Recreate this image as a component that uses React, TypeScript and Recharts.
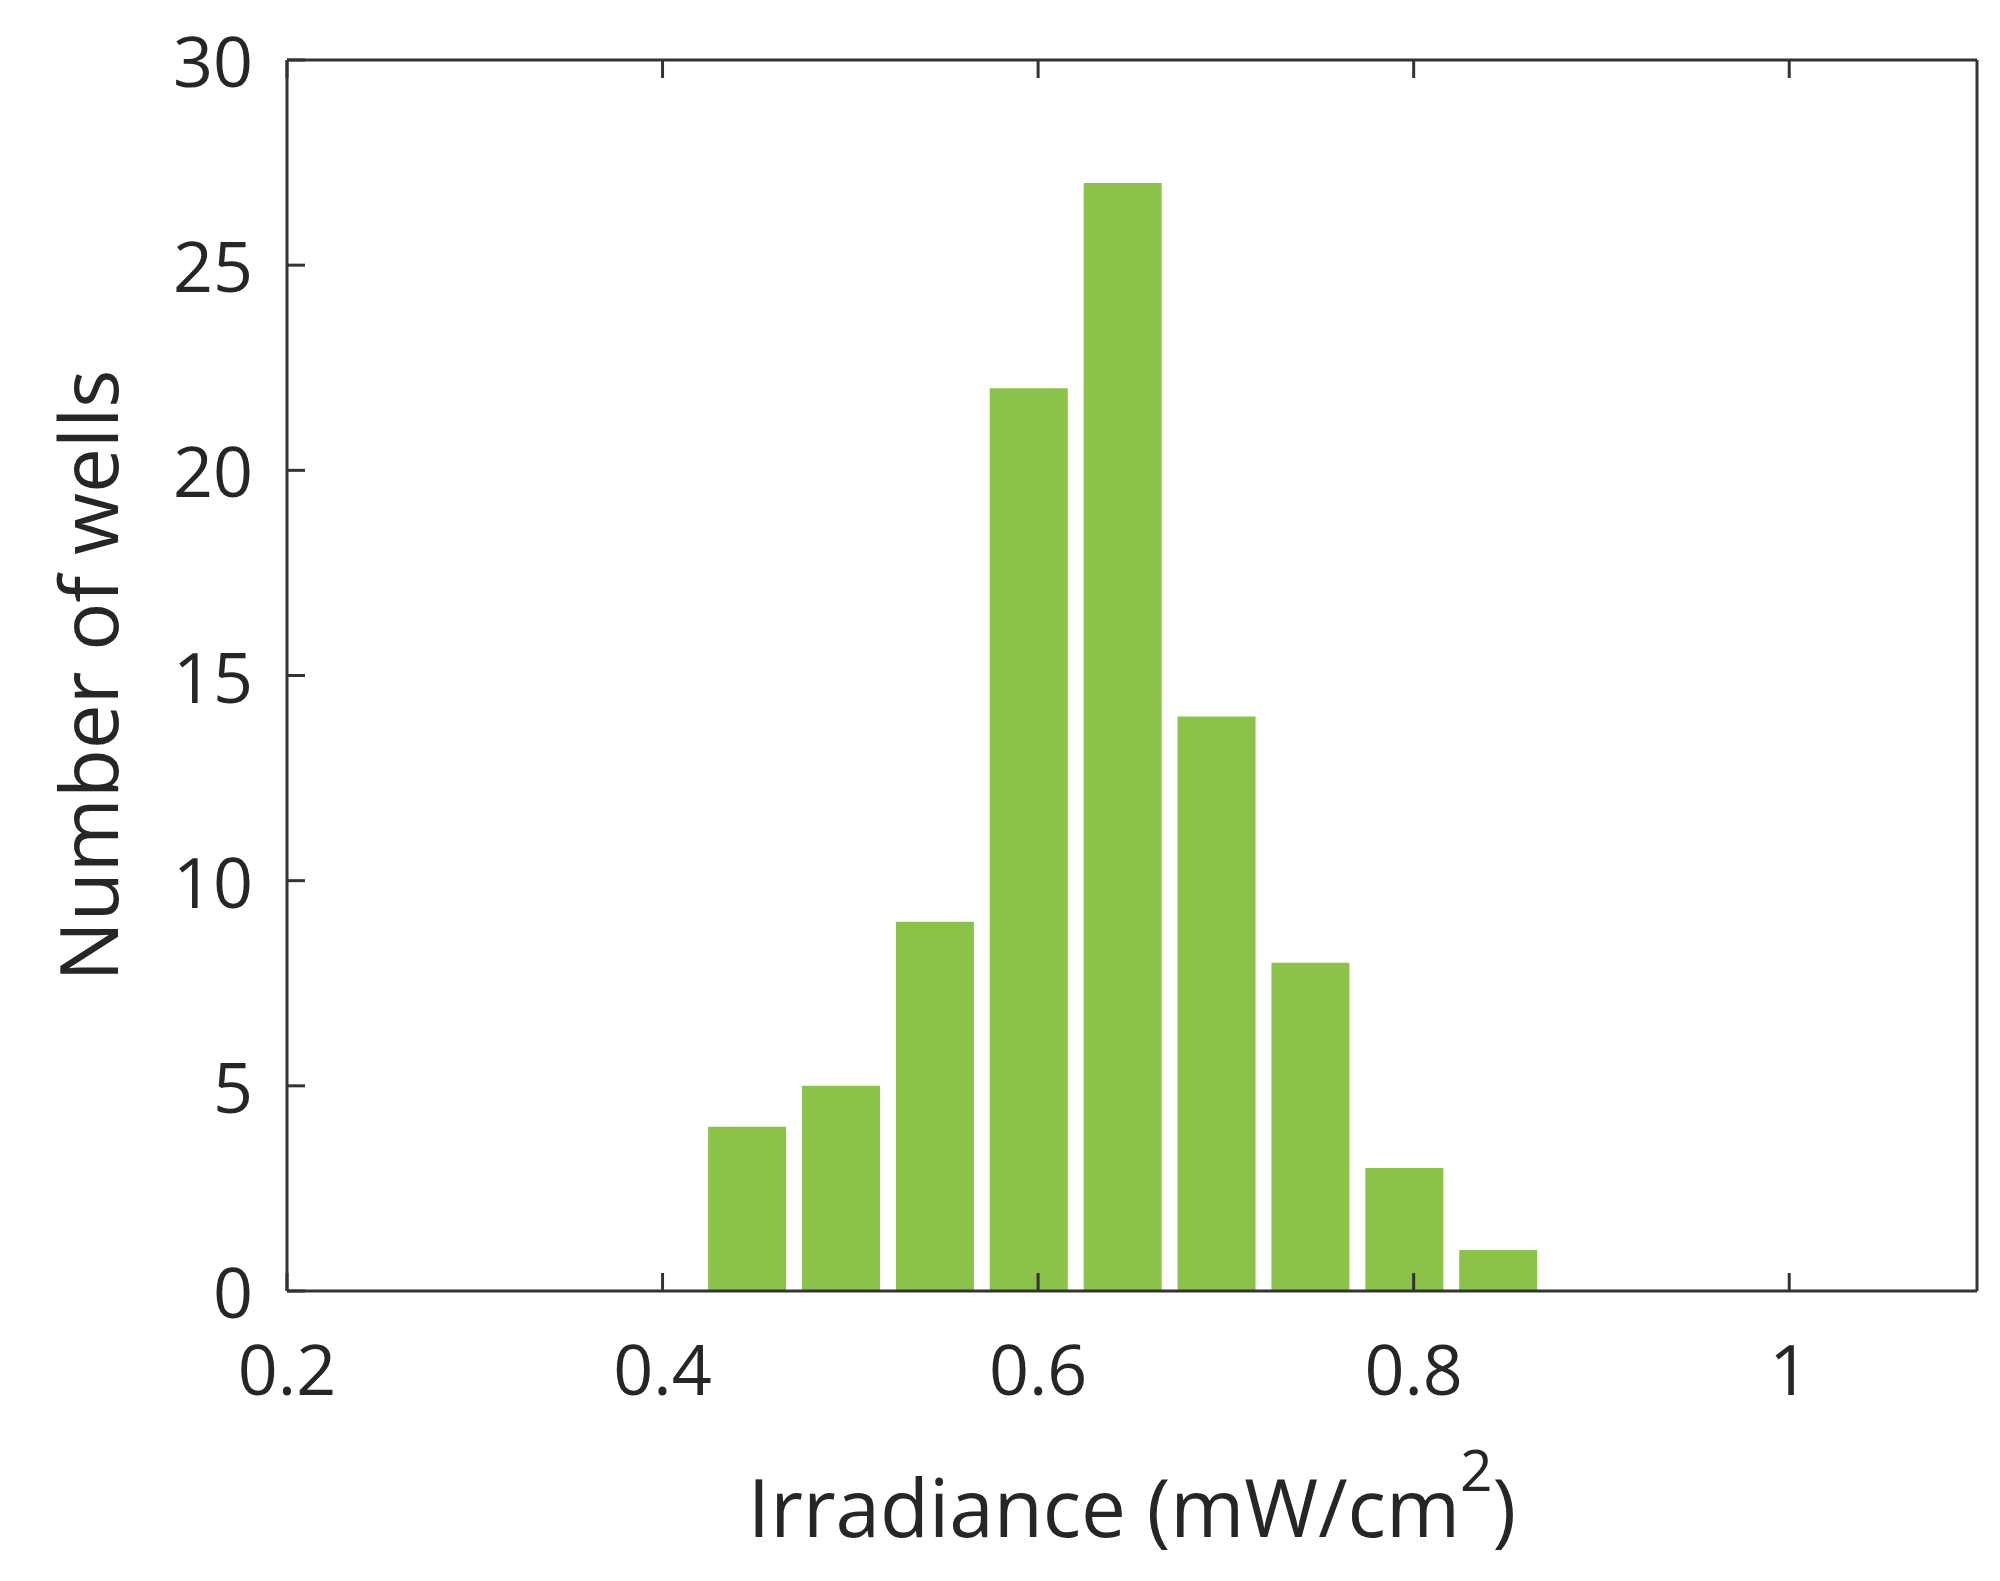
import React from 'react'
import { BarChart, Bar, XAxis, YAxis, Label } from 'recharts'

// histogram bins (centre of each bin) and counts
const binCenters = [0.445, 0.495, 0.545, 0.595, 0.645, 0.695, 0.745, 0.795, 0.845]
const wellCounts = [4, 5, 9, 22, 27, 14, 8, 3, 1]

const xTicks = [0.2, 0.4, 0.6, 0.8, 1]
const yTicks = [0, 5, 10, 15, 20, 25, 30]

const data = binCenters.map((c, i) => ({ center: c, count: wellCounts[i] }))

const FONT = '"Open Sans", sans-serif'
const TEXT = '#262626'
const AXIS = '#333333'
const TICK_LEN = 18

const BottomTick = (props: any) => {
    const { x, y, payload } = props
    return (
        <g>
            <line x1={x} x2={x} y1={y} y2={y - TICK_LEN} stroke={AXIS} strokeWidth={3} />
            <text x={x} y={y + 77} textAnchor='middle' dominantBaseline='central'
                fontFamily={FONT} fontSize={70} fill={TEXT}>
                {String(payload.value)}
            </text>
        </g>
    )
}

const TopTick = (props: any) => {
    const { x, y } = props
    return <line x1={x} x2={x} y1={y} y2={y + TICK_LEN} stroke={AXIS} strokeWidth={3} />
}

const LeftTick = (props: any) => {
    const { x, y, payload } = props
    return (
        <g>
            <line x1={x} x2={x + TICK_LEN} y1={y} y2={y} stroke={AXIS} strokeWidth={3} />
            <text x={x - 34} y={y} textAnchor='end' dominantBaseline='central'
                fontFamily={FONT} fontSize={70} fill={TEXT}>
                {String(payload.value)}
            </text>
        </g>
    )
}

const RightTick = (props: any) => {
    const { x, y } = props
    return <line x1={x} x2={x - TICK_LEN} y1={y} y2={y} stroke={AXIS} strokeWidth={3} />
}

const XTitle = (props: any) => {
    const { x, y, width } = props.viewBox
    return (
        <text x={x + width / 2} y={y + 246} textAnchor='middle'
            fontFamily={FONT} fontSize={80} fill={TEXT}>
            <tspan>Irradiance (mW/cm</tspan>
            <tspan fontSize={57} dy={-46}>2</tspan>
            <tspan dy={46}>)</tspan>
        </text>
    )
}

const YTitle = (props: any) => {
    const { y, height } = props.viewBox
    const cx = 118
    const cy = y + height / 2
    return (
        <text x={cx} y={cy} textAnchor='middle' transform={`rotate(-90, ${cx}, ${cy})`}
            fontFamily={FONT} fontSize={80} fill={TEXT}>
            Number of wells
        </text>
    )
}

const App = () => {
    return (
        <div style={{ position: 'absolute', left: 0, top: 0, width: 2000, height: 1581, background: '#fff', overflow: 'hidden' }}>
            <BarChart
                width={2000}
                height={1581}
                data={data}
                margin={{ top: 59, right: 22, left: 0, bottom: 0 }}
            >
                <XAxis
                    dataKey='center'
                    type='number'
                    domain={[0.2, 1.1]}
                    ticks={xTicks}
                    interval={0}
                    allowDataOverflow
                    height={290}
                    tickSize={0}
                    tickMargin={0}
                    tickLine={false}
                    axisLine={{ stroke: AXIS, strokeWidth: 3 }}
                    tick={<BottomTick />}
                >
                    <Label content={<XTitle />} />
                </XAxis>
                <XAxis
                    xAxisId='top'
                    orientation='top'
                    dataKey='center'
                    type='number'
                    domain={[0.2, 1.1]}
                    ticks={xTicks}
                    interval={0}
                    allowDataOverflow
                    height={1}
                    tickSize={0}
                    tickMargin={0}
                    tickLine={false}
                    axisLine={{ stroke: AXIS, strokeWidth: 3 }}
                    tick={<TopTick />}
                />
                <YAxis
                    type='number'
                    domain={[0, 30]}
                    ticks={yTicks}
                    interval={0}
                    width={287}
                    tickSize={0}
                    tickMargin={0}
                    tickLine={false}
                    axisLine={{ stroke: AXIS, strokeWidth: 3 }}
                    tick={<LeftTick />}
                >
                    <Label content={<YTitle />} />
                </YAxis>
                <YAxis
                    yAxisId='right'
                    orientation='right'
                    type='number'
                    domain={[0, 30]}
                    ticks={yTicks}
                    interval={0}
                    width={1}
                    tickSize={0}
                    tickMargin={0}
                    tickLine={false}
                    axisLine={{ stroke: AXIS, strokeWidth: 3 }}
                    tick={<RightTick />}
                />
                <Bar dataKey='count' fill='#8BC34A' barSize={78} isAnimationActive={false} />
            </BarChart>
        </div>
    )
}

export default App
